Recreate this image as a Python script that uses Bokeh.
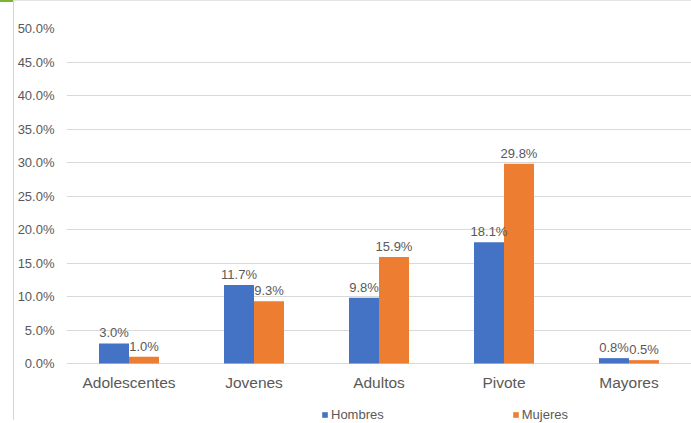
from bokeh.plotting import figure
from bokeh.models import (ColumnDataSource, Range1d, FixedTicker, PrintfTickFormatter,
                          Legend, LegendItem, InlineStyleSheet)
from bokeh.transform import dodge
from bokeh.core.properties import value
from bokeh.embed import file_html
from bokeh.resources import INLINE

categories = ["Adolescentes", "Jovenes", "Adultos", "Pivote", "Mayores"]
hombres = [3.0, 11.7, 9.8, 18.1, 0.8]
mujeres = [1.0, 9.3, 15.9, 29.8, 0.5]
series_names = ["Hombres", "Mujeres"]
y_ticks = [0, 5, 10, 15, 20, 25, 30, 35, 40, 45, 50]

FONT = "Liberation Sans"
TXT = "#595959"
BLUE = "#4472C4"
ORANGE = "#ED7D31"

W, H = 691, 423
TOP, LEFT = 28, 66
ZERO_PX = 363  # pixel row of the 0% line
ymax = 50
ymin = -ymax * (H - ZERO_PX) / (ZERO_PX - TOP)

src = ColumnDataSource(dict(
    cat=categories,
    h=hombres,
    m=mujeres,
    zero=[0] * len(categories),
    hl=[f"{v:.1f}%" for v in hombres],
    ml=[f"{v:.1f}%" for v in mujeres],
))

# thin page-frame lines around the chart (drawn by CSS behind a transparent canvas border)
frame_css = InlineStyleSheet(css="""
:host {
  background-color: #ffffff;
  background-image:
    linear-gradient(to right, #78b72c, #78b72c),
    linear-gradient(to right, #d4d4d4, #d4d4d4),
    linear-gradient(to right, #e4e4e4, #e4e4e4);
  background-position: 0px 0px, 13px 0px, 13px 0px;
  background-size: 13px 2px, 1px 420px, 678px 1px;
  background-repeat: no-repeat, no-repeat, no-repeat;
}
""")

p = figure(x_range=categories, y_range=Range1d(ymin, ymax), width=W, height=H,
           output_backend="svg", toolbar_location=None,
           min_border_left=LEFT, min_border_right=0, min_border_top=TOP, min_border_bottom=0)
p.stylesheets = [frame_css]
p.outline_line_color = None
p.background_fill_color = "white"
p.border_fill_color = None

bw = 0.24
r1 = p.vbar(x=dodge("cat", -bw / 2, range=p.x_range), top="h", width=bw, source=src,
            fill_color=BLUE, line_color=None)
r2 = p.vbar(x=dodge("cat", bw / 2, range=p.x_range), top="m", width=bw, source=src,
            fill_color=ORANGE, line_color=None)

p.text(x=dodge("cat", -bw / 2, range=p.x_range), y="h", text="hl", source=src,
       text_align="center", text_baseline="bottom", y_offset=-3,
       text_font=value(FONT), text_font_size="13px", text_color=TXT)
p.text(x=dodge("cat", bw / 2, range=p.x_range), y="m", text="ml", source=src,
       text_align="center", text_baseline="bottom", y_offset=-3,
       text_font=value(FONT), text_font_size="13px", text_color=TXT)

# category labels under the 0% line
p.text(x="cat", y="zero", text="cat", source=src,
       text_align="center", text_baseline="top", y_offset=10,
       text_font=value(FONT), text_font_size="15.5px", text_color=TXT)

# axes
p.yaxis.ticker = FixedTicker(ticks=y_ticks)
p.yaxis.formatter = PrintfTickFormatter(format="%.1f%%")
p.yaxis.axis_line_color = None
p.yaxis.major_tick_line_color = None
p.yaxis.minor_tick_line_color = None
p.yaxis.major_tick_out = 0
p.yaxis.major_tick_in = 0
p.yaxis.major_label_standoff = 12
p.yaxis.major_label_text_font = FONT
p.yaxis.major_label_text_font_size = "13px"
p.yaxis.major_label_text_color = TXT

p.xaxis.visible = False

p.xgrid.grid_line_color = None
p.ygrid.grid_line_color = "#d9d9d9"
p.ygrid.grid_line_width = 1

legend = Legend(items=[LegendItem(label=series_names[0], renderers=[r1]),
                       LegendItem(label=series_names[1], renderers=[r2])],
                orientation="horizontal", location=(321 - LEFT, 1),
                glyph_width=7, glyph_height=7, label_height=14, label_standoff=3,
                spacing=128, padding=0, margin=0, border_line_color=None,
                background_fill_alpha=0,
                label_text_font=FONT, label_text_font_size="13px", label_text_color=TXT)
p.add_layout(legend)

open("out.html", "w").write(file_html(p, INLINE))
